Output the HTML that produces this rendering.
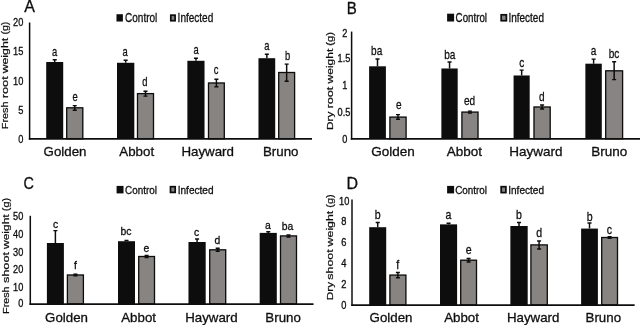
<!DOCTYPE html>
<html><head><meta charset="utf-8"><title>Figure</title>
<style>html,body{margin:0;padding:0;background:#fff;overflow:hidden}svg{display:block}text{font-family:"Liberation Sans",sans-serif;stroke:#111;stroke-width:0.32px;stroke-linejoin:round}</style>
</head><body>
<svg width="640" height="325" viewBox="0 0 640 325">
<rect width="640" height="325" fill="#fff"/>
<defs><filter id="soft" x="0" y="0" width="640" height="325" filterUnits="userSpaceOnUse"><feGaussianBlur stdDeviation="0.4"/></filter></defs>
<g filter="url(#soft)">
<rect x="46.20" y="62.00" width="17.00" height="76.80" fill="#0a0a0a"/>
<path d="M54.70 62.00V59.70M52.70 59.70H56.70" stroke="#0a0a0a" stroke-width="1.45" fill="none"/>
<rect x="66.70" y="107.80" width="16.10" height="31.00" fill="#888482" stroke="#0a0a0a" stroke-width="1.3"/>
<path d="M74.75 110.20V105.60M72.75 105.60H76.75M72.75 110.20H76.75" stroke="#0a0a0a" stroke-width="1.45" fill="none"/>
<rect x="117.00" y="62.80" width="17.30" height="76.00" fill="#0a0a0a"/>
<path d="M125.65 62.80V60.30M123.65 60.30H127.65" stroke="#0a0a0a" stroke-width="1.45" fill="none"/>
<rect x="137.50" y="93.60" width="16.00" height="45.20" fill="#888482" stroke="#0a0a0a" stroke-width="1.3"/>
<path d="M145.50 96.10V91.30M143.50 91.30H147.50M143.50 96.10H147.50" stroke="#0a0a0a" stroke-width="1.45" fill="none"/>
<rect x="187.40" y="60.80" width="17.10" height="78.00" fill="#0a0a0a"/>
<path d="M195.95 60.80V58.20M193.95 58.20H197.95" stroke="#0a0a0a" stroke-width="1.45" fill="none"/>
<rect x="208.50" y="83.00" width="15.80" height="55.80" fill="#888482" stroke="#0a0a0a" stroke-width="1.3"/>
<path d="M216.40 86.80V79.30M214.40 79.30H218.40M214.40 86.80H218.40" stroke="#0a0a0a" stroke-width="1.45" fill="none"/>
<rect x="258.50" y="58.20" width="16.70" height="80.60" fill="#0a0a0a"/>
<path d="M266.85 58.20V54.20M264.85 54.20H268.85" stroke="#0a0a0a" stroke-width="1.45" fill="none"/>
<rect x="278.70" y="72.50" width="15.90" height="66.30" fill="#888482" stroke="#0a0a0a" stroke-width="1.3"/>
<path d="M286.65 81.20V64.10M284.65 64.10H288.65M284.65 81.20H288.65" stroke="#0a0a0a" stroke-width="1.45" fill="none"/>
<path d="M29.60 22.50V139.70" stroke="#0a0a0a" stroke-width="1.5" fill="none"/>
<path d="M28.85 138.80H312.00" stroke="#0a0a0a" stroke-width="1.75" fill="none"/>
<text transform="translate(23.30,26.35) scale(0.820,1)" font-size="11.3" text-anchor="end" fill="#111">20</text>
<text transform="translate(23.30,55.25) scale(0.820,1)" font-size="11.3" text-anchor="end" fill="#111">15</text>
<text transform="translate(23.30,84.85) scale(0.820,1)" font-size="11.3" text-anchor="end" fill="#111">10</text>
<text transform="translate(23.30,114.05) scale(0.820,1)" font-size="11.3" text-anchor="end" fill="#111">5</text>
<text transform="translate(23.30,143.05) scale(0.820,1)" font-size="11.3" text-anchor="end" fill="#111">0</text>
<text transform="translate(54.50,56.00) scale(0.690,1)" font-size="13.6" text-anchor="middle" fill="#111">a</text>
<text transform="translate(75.00,101.10) scale(0.690,1)" font-size="13.6" text-anchor="middle" fill="#111">e</text>
<text transform="translate(125.20,56.40) scale(0.690,1)" font-size="13.6" text-anchor="middle" fill="#111">a</text>
<text transform="translate(144.90,86.30) scale(0.690,1)" font-size="13.6" text-anchor="middle" fill="#111">d</text>
<text transform="translate(196.10,54.30) scale(0.690,1)" font-size="13.6" text-anchor="middle" fill="#111">a</text>
<text transform="translate(216.00,74.30) scale(0.690,1)" font-size="13.6" text-anchor="middle" fill="#111">c</text>
<text transform="translate(266.80,49.70) scale(0.690,1)" font-size="13.6" text-anchor="middle" fill="#111">a</text>
<text transform="translate(287.50,60.00) scale(0.690,1)" font-size="13.6" text-anchor="middle" fill="#111">b</text>
<text transform="translate(65.00,156.00)" font-size="13.3" text-anchor="middle" fill="#111">Golden</text>
<text transform="translate(136.70,156.00)" font-size="13.3" text-anchor="middle" fill="#111">Abbot</text>
<text transform="translate(207.70,156.00)" font-size="13.3" text-anchor="middle" fill="#111">Hayward</text>
<text transform="translate(280.70,156.00)" font-size="13.3" text-anchor="middle" fill="#111">Bruno</text>
<rect x="116.50" y="14.20" width="6.40" height="7.30" fill="#0a0a0a"/>
<text transform="translate(125.00,22.40) scale(0.790,1)" font-size="12.7" text-anchor="start" fill="#111">Control</text>
<rect x="170.80" y="15.20" width="4.30" height="5.50" fill="#888482" stroke="#0a0a0a" stroke-width="1.7"/>
<text transform="translate(177.60,22.40) scale(0.790,1)" font-size="12.7" text-anchor="start" fill="#111">Infected</text>
<text transform="translate(24.20,12.20)" font-size="16" text-anchor="start" fill="#111">A</text>
<text transform="translate(7.60,129.20) rotate(-90)" font-size="9.2" text-anchor="start" fill="#111" style="stroke-width:0.22px" textLength="27.80" lengthAdjust="spacingAndGlyphs">Fresh</text>
<text transform="translate(7.60,98.30) rotate(-90)" font-size="9.2" text-anchor="start" fill="#111" style="stroke-width:0.22px" textLength="22.10" lengthAdjust="spacingAndGlyphs">root</text>
<text transform="translate(7.60,73.30) rotate(-90)" font-size="9.2" text-anchor="start" fill="#111" style="stroke-width:0.22px" textLength="35.40" lengthAdjust="spacingAndGlyphs">weight</text>
<text transform="translate(7.60,34.50) rotate(-90)" font-size="9.2" text-anchor="start" fill="#111" style="stroke-width:0.22px" textLength="12.80" lengthAdjust="spacingAndGlyphs">(g)</text>
<rect x="369.10" y="66.30" width="16.80" height="72.50" fill="#0a0a0a"/>
<path d="M377.50 66.30V59.00M375.50 59.00H379.50" stroke="#0a0a0a" stroke-width="1.45" fill="none"/>
<rect x="389.90" y="117.10" width="16.20" height="21.70" fill="#888482" stroke="#0a0a0a" stroke-width="1.3"/>
<path d="M398.00 119.30V114.60M396.00 114.60H400.00M396.00 119.30H400.00" stroke="#0a0a0a" stroke-width="1.45" fill="none"/>
<rect x="441.40" y="68.50" width="16.30" height="70.30" fill="#0a0a0a"/>
<path d="M449.55 68.50V61.90M447.55 61.90H451.55" stroke="#0a0a0a" stroke-width="1.45" fill="none"/>
<rect x="461.90" y="112.10" width="16.10" height="26.70" fill="#888482" stroke="#0a0a0a" stroke-width="1.3"/>
<path d="M469.95 113.10V111.10M467.95 111.10H471.95M467.95 113.10H471.95" stroke="#0a0a0a" stroke-width="1.45" fill="none"/>
<rect x="513.60" y="75.50" width="16.10" height="63.30" fill="#0a0a0a"/>
<path d="M521.65 75.50V70.10M519.65 70.10H523.65" stroke="#0a0a0a" stroke-width="1.45" fill="none"/>
<rect x="534.00" y="107.00" width="16.20" height="31.80" fill="#888482" stroke="#0a0a0a" stroke-width="1.3"/>
<path d="M542.10 109.00V105.00M540.10 105.00H544.10M540.10 109.00H544.10" stroke="#0a0a0a" stroke-width="1.45" fill="none"/>
<rect x="585.40" y="63.70" width="16.40" height="75.10" fill="#0a0a0a"/>
<path d="M593.60 63.70V59.10M591.60 59.10H595.60" stroke="#0a0a0a" stroke-width="1.45" fill="none"/>
<rect x="605.70" y="70.80" width="16.90" height="68.00" fill="#888482" stroke="#0a0a0a" stroke-width="1.3"/>
<path d="M614.15 79.60V61.80M612.15 61.80H616.15M612.15 79.60H616.15" stroke="#0a0a0a" stroke-width="1.45" fill="none"/>
<path d="M351.60 31.60V139.70" stroke="#0a0a0a" stroke-width="1.5" fill="none"/>
<path d="M350.85 138.80H640.00" stroke="#0a0a0a" stroke-width="1.75" fill="none"/>
<text transform="translate(347.40,37.48) scale(0.920,1)" font-size="10.0" text-anchor="end" fill="#111">2</text>
<text transform="translate(350.40,61.58) scale(0.920,1)" font-size="10.0" text-anchor="end" fill="#111">1.5</text>
<text transform="translate(347.40,88.68) scale(0.920,1)" font-size="10.0" text-anchor="end" fill="#111">1</text>
<text transform="translate(350.40,115.58) scale(0.920,1)" font-size="10.0" text-anchor="end" fill="#111">0.5</text>
<text transform="translate(347.40,142.68) scale(0.920,1)" font-size="10.0" text-anchor="end" fill="#111">0</text>
<text transform="translate(376.70,54.70) scale(0.740,1)" font-size="13.6" text-anchor="middle" fill="#111">ba</text>
<text transform="translate(398.80,108.50) scale(0.740,1)" font-size="13.6" text-anchor="middle" fill="#111">e</text>
<text transform="translate(449.80,58.50) scale(0.740,1)" font-size="13.6" text-anchor="middle" fill="#111">ba</text>
<text transform="translate(469.50,104.50) scale(0.740,1)" font-size="13.6" text-anchor="middle" fill="#111">ed</text>
<text transform="translate(521.80,67.00) scale(0.740,1)" font-size="13.6" text-anchor="middle" fill="#111">c</text>
<text transform="translate(541.90,100.70) scale(0.740,1)" font-size="13.6" text-anchor="middle" fill="#111">d</text>
<text transform="translate(593.60,54.80) scale(0.740,1)" font-size="13.6" text-anchor="middle" fill="#111">a</text>
<text transform="translate(614.00,58.30) scale(0.740,1)" font-size="13.6" text-anchor="middle" fill="#111">bc</text>
<text transform="translate(392.90,156.30)" font-size="13.5" text-anchor="middle" fill="#111">Golden</text>
<text transform="translate(464.30,156.30)" font-size="13.5" text-anchor="middle" fill="#111">Abbot</text>
<text transform="translate(536.00,156.30)" font-size="13.5" text-anchor="middle" fill="#111">Hayward</text>
<text transform="translate(609.20,156.30)" font-size="13.5" text-anchor="middle" fill="#111">Bruno</text>
<rect x="447.10" y="13.70" width="7.00" height="7.80" fill="#0a0a0a"/>
<text transform="translate(455.60,22.40) scale(0.800,1)" font-size="12.2" text-anchor="start" fill="#111">Control</text>
<rect x="501.20" y="14.80" width="5.20" height="5.90" fill="#888482" stroke="#0a0a0a" stroke-width="1.7"/>
<text transform="translate(508.40,22.40) scale(0.820,1)" font-size="12.2" text-anchor="start" fill="#111">Infected</text>
<text transform="translate(346.80,13.50) scale(0.940,1)" font-size="16" text-anchor="start" fill="#111">B</text>
<text transform="translate(332.60,130.00) rotate(-90)" font-size="9.2" text-anchor="start" fill="#111" style="stroke-width:0.22px" textLength="18.40" lengthAdjust="spacingAndGlyphs">Dry</text>
<text transform="translate(332.60,108.60) rotate(-90)" font-size="9.2" text-anchor="start" fill="#111" style="stroke-width:0.22px" textLength="22.00" lengthAdjust="spacingAndGlyphs">root</text>
<text transform="translate(332.60,83.40) rotate(-90)" font-size="9.2" text-anchor="start" fill="#111" style="stroke-width:0.22px" textLength="34.70" lengthAdjust="spacingAndGlyphs">weight</text>
<text transform="translate(332.60,45.70) rotate(-90)" font-size="9.2" text-anchor="start" fill="#111" style="stroke-width:0.22px" textLength="13.60" lengthAdjust="spacingAndGlyphs">(g)</text>
<rect x="46.90" y="243.00" width="17.00" height="61.00" fill="#0a0a0a"/>
<path d="M55.40 243.00V230.60M53.40 230.60H57.40" stroke="#0a0a0a" stroke-width="1.45" fill="none"/>
<rect x="67.40" y="275.00" width="16.00" height="29.00" fill="#888482" stroke="#0a0a0a" stroke-width="1.3"/>
<path d="M75.40 275.70V274.30M73.40 274.30H77.40M73.40 275.70H77.40" stroke="#0a0a0a" stroke-width="1.45" fill="none"/>
<rect x="118.00" y="241.20" width="17.00" height="62.80" fill="#0a0a0a"/>
<path d="M126.50 241.20V240.40M124.50 240.40H128.50" stroke="#0a0a0a" stroke-width="1.45" fill="none"/>
<rect x="138.70" y="256.50" width="15.80" height="47.50" fill="#888482" stroke="#0a0a0a" stroke-width="1.3"/>
<path d="M146.60 257.50V255.50M144.60 255.50H148.60M144.60 257.50H148.60" stroke="#0a0a0a" stroke-width="1.45" fill="none"/>
<rect x="188.50" y="242.00" width="17.20" height="62.00" fill="#0a0a0a"/>
<path d="M197.10 242.00V238.90M195.10 238.90H199.10" stroke="#0a0a0a" stroke-width="1.45" fill="none"/>
<rect x="209.70" y="249.80" width="16.00" height="54.20" fill="#888482" stroke="#0a0a0a" stroke-width="1.3"/>
<path d="M217.70 251.30V248.30M215.70 248.30H219.70M215.70 251.30H219.70" stroke="#0a0a0a" stroke-width="1.45" fill="none"/>
<rect x="259.70" y="232.90" width="17.10" height="71.10" fill="#0a0a0a"/>
<path d="M268.25 232.90V231.70M266.25 231.70H270.25" stroke="#0a0a0a" stroke-width="1.45" fill="none"/>
<rect x="280.50" y="235.90" width="16.00" height="68.10" fill="#888482" stroke="#0a0a0a" stroke-width="1.3"/>
<path d="M288.50 236.90V234.90M286.50 234.90H290.50M286.50 236.90H290.50" stroke="#0a0a0a" stroke-width="1.45" fill="none"/>
<path d="M30.30 215.80V304.90" stroke="#0a0a0a" stroke-width="1.5" fill="none"/>
<path d="M29.55 304.00H313.50" stroke="#0a0a0a" stroke-width="1.75" fill="none"/>
<text transform="translate(23.30,220.38) scale(0.920,1)" font-size="10.0" text-anchor="end" fill="#111">50</text>
<text transform="translate(23.30,238.28) scale(0.920,1)" font-size="10.0" text-anchor="end" fill="#111">40</text>
<text transform="translate(23.30,255.98) scale(0.920,1)" font-size="10.0" text-anchor="end" fill="#111">30</text>
<text transform="translate(23.30,272.78) scale(0.920,1)" font-size="10.0" text-anchor="end" fill="#111">20</text>
<text transform="translate(23.30,290.78) scale(0.920,1)" font-size="10.0" text-anchor="end" fill="#111">10</text>
<text transform="translate(23.30,307.38) scale(0.920,1)" font-size="10.0" text-anchor="end" fill="#111">0</text>
<text transform="translate(55.60,227.90) scale(0.920,1)" font-size="11.3" text-anchor="middle" fill="#111">c</text>
<text transform="translate(75.50,268.90) scale(0.920,1)" font-size="11.3" text-anchor="middle" fill="#111">f</text>
<text transform="translate(126.00,235.40) scale(0.920,1)" font-size="11.3" text-anchor="middle" fill="#111">bc</text>
<text transform="translate(146.30,252.30) scale(0.920,1)" font-size="11.3" text-anchor="middle" fill="#111">e</text>
<text transform="translate(196.60,236.00) scale(0.920,1)" font-size="11.3" text-anchor="middle" fill="#111">c</text>
<text transform="translate(217.30,244.30) scale(0.920,1)" font-size="11.3" text-anchor="middle" fill="#111">d</text>
<text transform="translate(268.00,228.80) scale(0.920,1)" font-size="11.3" text-anchor="middle" fill="#111">a</text>
<text transform="translate(287.50,230.20) scale(0.920,1)" font-size="11.3" text-anchor="middle" fill="#111">ba</text>
<text transform="translate(66.50,321.60)" font-size="13.3" text-anchor="middle" fill="#111">Golden</text>
<text transform="translate(138.60,321.60)" font-size="13.3" text-anchor="middle" fill="#111">Abbot</text>
<text transform="translate(211.40,321.60)" font-size="13.3" text-anchor="middle" fill="#111">Hayward</text>
<text transform="translate(283.10,321.60)" font-size="13.3" text-anchor="middle" fill="#111">Bruno</text>
<rect x="116.60" y="185.90" width="6.90" height="7.50" fill="#0a0a0a"/>
<text transform="translate(125.00,193.70) scale(0.860,1)" font-size="11.5" text-anchor="start" fill="#111">Control</text>
<rect x="170.50" y="186.70" width="4.70" height="5.70" fill="#888482" stroke="#0a0a0a" stroke-width="1.7"/>
<text transform="translate(177.70,193.70) scale(0.875,1)" font-size="11.5" text-anchor="start" fill="#111">Infected</text>
<text transform="translate(23.60,188.90) scale(0.900,1)" font-size="16" text-anchor="start" fill="#111">C</text>
<text transform="translate(9.00,313.90) rotate(-90)" font-size="9.4" text-anchor="start" fill="#111" style="stroke-width:0.22px" textLength="27.50" lengthAdjust="spacingAndGlyphs">Fresh</text>
<text transform="translate(9.00,283.10) rotate(-90)" font-size="9.4" text-anchor="start" fill="#111" style="stroke-width:0.22px" textLength="31.10" lengthAdjust="spacingAndGlyphs">shoot</text>
<text transform="translate(9.00,249.00) rotate(-90)" font-size="9.4" text-anchor="start" fill="#111" style="stroke-width:0.22px" textLength="34.70" lengthAdjust="spacingAndGlyphs">weight</text>
<text transform="translate(9.00,211.20) rotate(-90)" font-size="9.4" text-anchor="start" fill="#111" style="stroke-width:0.22px" textLength="13.40" lengthAdjust="spacingAndGlyphs">(g)</text>
<rect x="369.20" y="227.20" width="17.00" height="77.80" fill="#0a0a0a"/>
<path d="M377.70 227.20V222.50M375.70 222.50H379.70" stroke="#0a0a0a" stroke-width="1.45" fill="none"/>
<rect x="389.90" y="275.10" width="16.00" height="29.90" fill="#888482" stroke="#0a0a0a" stroke-width="1.3"/>
<path d="M397.90 277.70V272.50M395.90 272.50H399.90M395.90 277.70H399.90" stroke="#0a0a0a" stroke-width="1.45" fill="none"/>
<rect x="440.00" y="224.40" width="17.10" height="80.60" fill="#0a0a0a"/>
<path d="M448.55 224.40V223.20M446.55 223.20H450.55" stroke="#0a0a0a" stroke-width="1.45" fill="none"/>
<rect x="460.70" y="260.20" width="15.80" height="44.80" fill="#888482" stroke="#0a0a0a" stroke-width="1.3"/>
<path d="M468.60 262.00V258.40M466.60 258.40H470.60M466.60 262.00H470.60" stroke="#0a0a0a" stroke-width="1.45" fill="none"/>
<rect x="510.40" y="226.00" width="17.30" height="79.00" fill="#0a0a0a"/>
<path d="M519.05 226.00V222.40M517.05 222.40H521.05" stroke="#0a0a0a" stroke-width="1.45" fill="none"/>
<rect x="530.90" y="244.90" width="16.40" height="60.10" fill="#888482" stroke="#0a0a0a" stroke-width="1.3"/>
<path d="M539.10 248.90V240.90M537.10 240.90H541.10M537.10 248.90H541.10" stroke="#0a0a0a" stroke-width="1.45" fill="none"/>
<rect x="581.10" y="228.60" width="16.80" height="76.40" fill="#0a0a0a"/>
<path d="M589.50 228.60V223.00M587.50 223.00H591.50" stroke="#0a0a0a" stroke-width="1.45" fill="none"/>
<rect x="601.70" y="237.50" width="15.80" height="67.50" fill="#888482" stroke="#0a0a0a" stroke-width="1.3"/>
<path d="M609.60 238.30V236.70M607.60 236.70H611.60M607.60 238.30H611.60" stroke="#0a0a0a" stroke-width="1.45" fill="none"/>
<path d="M352.00 199.40V305.90" stroke="#0a0a0a" stroke-width="1.5" fill="none"/>
<path d="M351.25 305.00H634.60" stroke="#0a0a0a" stroke-width="1.75" fill="none"/>
<text transform="translate(349.30,204.99) scale(0.900,1)" font-size="10.3" text-anchor="end" fill="#111">10</text>
<text transform="translate(346.30,225.29) scale(0.900,1)" font-size="10.3" text-anchor="end" fill="#111">8</text>
<text transform="translate(346.30,246.49) scale(0.900,1)" font-size="10.3" text-anchor="end" fill="#111">6</text>
<text transform="translate(346.30,266.59) scale(0.900,1)" font-size="10.3" text-anchor="end" fill="#111">4</text>
<text transform="translate(346.30,287.59) scale(0.900,1)" font-size="10.3" text-anchor="end" fill="#111">2</text>
<text transform="translate(346.30,308.59) scale(0.900,1)" font-size="10.3" text-anchor="end" fill="#111">0</text>
<text transform="translate(377.80,219.30) scale(0.840,1)" font-size="12.6" text-anchor="middle" fill="#111">b</text>
<text transform="translate(397.80,268.80) scale(0.840,1)" font-size="12.6" text-anchor="middle" fill="#111">f</text>
<text transform="translate(448.40,219.20) scale(0.840,1)" font-size="12.6" text-anchor="middle" fill="#111">a</text>
<text transform="translate(468.60,253.60) scale(0.840,1)" font-size="12.6" text-anchor="middle" fill="#111">e</text>
<text transform="translate(518.90,219.00) scale(0.840,1)" font-size="12.6" text-anchor="middle" fill="#111">b</text>
<text transform="translate(539.10,237.00) scale(0.840,1)" font-size="12.6" text-anchor="middle" fill="#111">d</text>
<text transform="translate(589.80,220.60) scale(0.840,1)" font-size="12.6" text-anchor="middle" fill="#111">b</text>
<text transform="translate(609.30,233.60) scale(0.840,1)" font-size="12.6" text-anchor="middle" fill="#111">c</text>
<text transform="translate(391.00,322.00)" font-size="13.3" text-anchor="middle" fill="#111">Golden</text>
<text transform="translate(461.50,322.00)" font-size="13.3" text-anchor="middle" fill="#111">Abbot</text>
<text transform="translate(533.20,322.00)" font-size="13.3" text-anchor="middle" fill="#111">Hayward</text>
<text transform="translate(603.30,322.00)" font-size="13.3" text-anchor="middle" fill="#111">Bruno</text>
<rect x="447.10" y="185.90" width="7.00" height="7.50" fill="#0a0a0a"/>
<text transform="translate(455.20,193.70) scale(0.860,1)" font-size="11.5" text-anchor="start" fill="#111">Control</text>
<rect x="501.20" y="186.70" width="4.70" height="5.90" fill="#888482" stroke="#0a0a0a" stroke-width="1.7"/>
<text transform="translate(508.20,193.70) scale(0.875,1)" font-size="11.5" text-anchor="start" fill="#111">Infected</text>
<text transform="translate(346.40,188.60)" font-size="16" text-anchor="start" fill="#111">D</text>
<text transform="translate(332.60,300.20) rotate(-90)" font-size="9.4" text-anchor="start" fill="#111" style="stroke-width:0.22px" textLength="18.30" lengthAdjust="spacingAndGlyphs">Dry</text>
<text transform="translate(332.60,279.70) rotate(-90)" font-size="9.4" text-anchor="start" fill="#111" style="stroke-width:0.22px" textLength="30.30" lengthAdjust="spacingAndGlyphs">shoot</text>
<text transform="translate(332.60,246.40) rotate(-90)" font-size="9.4" text-anchor="start" fill="#111" style="stroke-width:0.22px" textLength="35.70" lengthAdjust="spacingAndGlyphs">weight</text>
<text transform="translate(332.60,207.70) rotate(-90)" font-size="9.4" text-anchor="start" fill="#111" style="stroke-width:0.22px" textLength="13.40" lengthAdjust="spacingAndGlyphs">(g)</text>
</g>
</svg>
</body></html>
